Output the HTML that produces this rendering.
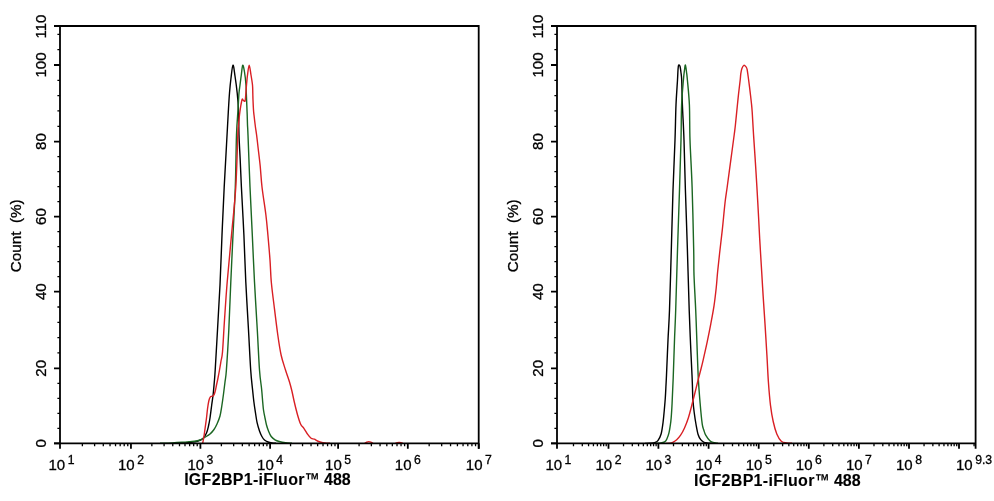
<!DOCTYPE html>
<html><head><meta charset="utf-8"><title>IGF2BP1 flow cytometry</title>
<style>html,body{margin:0;padding:0;background:#fff;}svg{display:block;will-change:transform;}</style></head>
<body><svg width="994" height="501" viewBox="0 0 994 501">
<rect width="994" height="501" fill="#fff"/>
<g fill="none">
<path d="M178,443.3C179.17,443.25 183,443.13 185,443C187,442.87 187.83,442.83 190,442.5C192.17,442.17 195.83,441.67 198,441C200.17,440.33 201.58,439.83 203,438.5C204.42,437.17 205.58,435.08 206.5,433C207.42,430.92 207.92,428.5 208.5,426C209.08,423.5 209.47,421.5 210,418C210.53,414.5 211.17,409 211.7,405C212.23,401 212.77,397.83 213.2,394C213.63,390.17 213.97,386 214.3,382C214.63,378 214.67,378.67 215.2,370C215.73,361.33 216.7,344.17 217.5,330C218.3,315.83 219.25,300.83 220,285C220.75,269.17 221.3,251.33 222,235C222.7,218.67 223.45,202 224.2,187C224.95,172 225.82,157.5 226.5,145C227.18,132.5 227.8,120.67 228.3,112C228.8,103.33 229.05,98.67 229.5,93C229.95,87.33 230.42,82.63 231,78C231.58,73.37 232.33,65.53 233,65.2C233.67,64.87 234.3,71.37 235,76C235.7,80.63 236.62,87.33 237.2,93C237.78,98.67 238.2,103 238.5,110C238.8,117 238.72,126.67 239,135C239.28,143.33 239.8,151.33 240.2,160C240.6,168.67 240.78,174.5 241.4,187C242.02,199.5 243.17,219.17 243.9,235C244.63,250.83 245.03,266.17 245.8,282C246.57,297.83 247.68,315.33 248.5,330C249.32,344.67 250.02,360 250.7,370C251.38,380 252.07,384.67 252.6,390C253.13,395.33 253.42,398.17 253.9,402C254.38,405.83 254.97,409.55 255.5,413C256.03,416.45 256.43,419.7 257.1,422.7C257.77,425.7 258.7,428.7 259.5,431C260.3,433.3 261.07,435 261.9,436.5C262.73,438 263.48,439.08 264.5,440C265.52,440.92 266.75,441.5 268,442C269.25,442.5 270.67,442.78 272,443C273.33,443.22 275.33,443.25 276,443.3" fill="none" stroke="#000" stroke-width="1.4" stroke-linejoin="round"/>
<path d="M160,443.3C162,443.23 168.33,443.07 172,442.9C175.67,442.73 179,442.52 182,442.3C185,442.08 187.67,441.82 190,441.6C192.33,441.38 194.33,441.27 196,441C197.67,440.73 198.5,440.63 200,440C201.5,439.37 203.33,438.2 205,437.2C206.67,436.2 208.5,435.28 210,434C211.5,432.72 212.83,431.17 214,429.5C215.17,427.83 216,426.25 217,424C218,421.75 219.2,419 220,416C220.8,413 221.22,409.67 221.8,406C222.38,402.33 222.97,398 223.5,394C224.03,390 224.52,386 225,382C225.48,378 225.77,378.67 226.4,370C227.03,361.33 228.07,344.67 228.8,330C229.53,315.33 230.1,297.83 230.8,282C231.5,266.17 232.25,250.83 233,235C233.75,219.17 234.72,203.67 235.3,187C235.88,170.33 236.05,147.83 236.5,135C236.95,122.17 237.58,117 238,110C238.42,103 238.67,97.17 239,93C239.33,88.83 239.62,88 240,85C240.38,82 240.85,78.3 241.3,75C241.75,71.7 242.17,65.7 242.7,65.2C243.23,64.7 243.95,68.7 244.5,72C245.05,75.3 245.7,81.5 246,85C246.3,88.5 246.17,89.67 246.3,93C246.43,96.33 246.65,101.33 246.8,105C246.95,108.67 247.08,111.67 247.2,115C247.32,118.33 247.37,121.67 247.5,125C247.63,128.33 247.58,124.67 248,135C248.42,145.33 249.28,170.33 250,187C250.72,203.67 251.55,219.17 252.3,235C253.05,250.83 253.67,266.17 254.5,282C255.33,297.83 256.47,315.33 257.3,330C258.13,344.67 258.78,360.17 259.5,370C260.22,379.83 261.07,383.67 261.6,389C262.13,394.33 262.38,398.5 262.7,402C263.02,405.5 263.12,407.33 263.5,410C263.88,412.67 264.5,415.5 265,418C265.5,420.5 265.92,422.83 266.5,425C267.08,427.17 267.72,429.08 268.5,431C269.28,432.92 270.12,435.03 271.2,436.5C272.28,437.97 273.67,438.97 275,439.8C276.33,440.63 277.45,441 279.2,441.5C280.95,442 283.37,442.5 285.5,442.8C287.63,443.1 290.92,443.22 292,443.3" fill="none" stroke="#1b6622" stroke-width="1.4" stroke-linejoin="round"/>
<path d="M202.7,443.3C202.8,442.75 203.03,441.55 203.3,440C203.57,438.45 203.95,436.33 204.3,434C204.65,431.67 205.03,428.67 205.4,426C205.77,423.33 206.15,420.83 206.5,418C206.85,415.17 207.12,411.83 207.5,409C207.88,406.17 208.38,402.92 208.8,401C209.22,399.08 209.55,398.28 210,397.5C210.45,396.72 211,396.55 211.5,396.3C212,396.05 212.55,396.3 213,396C213.45,395.7 213.78,395.5 214.2,394.5C214.62,393.5 215.12,391.58 215.5,390C215.88,388.42 216.08,387 216.5,385C216.92,383 217.5,380.5 218,378C218.5,375.5 219,372.83 219.5,370C220,367.17 220.5,364 221,361C221.5,358 221.92,358.83 222.5,352C223.08,345.17 223.72,331.67 224.5,320C225.28,308.33 226.03,296.17 227.2,282C228.37,267.83 230.07,250.83 231.5,235C232.93,219.17 234.75,203.67 235.8,187C236.85,170.33 237.35,145.33 237.8,135C238.25,124.67 238.22,128.33 238.5,125C238.78,121.67 239.15,118 239.5,115C239.85,112 240.27,109.17 240.6,107C240.93,104.83 241.22,103.33 241.5,102C241.78,100.67 242,99.25 242.3,99C242.6,98.75 242.97,100.17 243.3,100.5C243.63,100.83 243.97,101.12 244.3,101C244.63,100.88 244.93,102.47 245.3,99.8C245.67,97.13 246.13,89.13 246.5,85C246.87,80.87 247.05,78.3 247.5,75C247.95,71.7 248.62,65.2 249.2,65.2C249.78,65.2 250.45,71.7 251,75C251.55,78.3 252.2,82 252.5,85C252.8,88 252.72,90.5 252.8,93C252.88,95.5 252.88,97.17 253,100C253.12,102.83 253.33,107.5 253.5,110C253.67,112.5 253.7,112.33 254,115C254.3,117.67 254.87,122.67 255.3,126C255.73,129.33 256.15,131.5 256.6,135C257.05,138.5 257.4,141.83 258,147C258.6,152.17 259.53,159.33 260.2,166C260.87,172.67 261.05,178.83 262,187C262.95,195.17 264.92,207 265.9,215C266.88,223 267.22,227.5 267.9,235C268.58,242.5 269.43,252.17 270,260C270.57,267.83 270.63,274.5 271.3,282C271.97,289.5 272.92,296.17 274,305C275.08,313.83 276.62,326.67 277.8,335C278.98,343.33 279.82,349.17 281.1,355C282.38,360.83 284.1,365.5 285.5,370C286.9,374.5 288.43,378.5 289.5,382C290.57,385.5 291.1,387.67 291.9,391C292.7,394.33 293.37,398.05 294.3,402C295.23,405.95 296.43,410.98 297.5,414.7C298.57,418.42 299.63,422.03 300.7,424.3C301.77,426.57 302.7,426.57 303.9,428.3C305.1,430.03 306.7,433.03 307.9,434.7C309.1,436.37 310.03,437.55 311.1,438.3C312.17,439.05 313.23,438.75 314.3,439.2C315.37,439.65 316.38,440.48 317.5,441C318.62,441.52 319.75,441.97 321,442.3C322.25,442.63 323.5,442.83 325,443C326.5,443.17 329.17,443.25 330,443.3" fill="none" stroke="#d91f24" stroke-width="1.4" stroke-linejoin="round"/>
<path d="M645,443.35C645.83,443.33 648.38,443.32 650,443.2C651.62,443.07 653.38,443.03 654.7,442.6C656.02,442.17 656.83,442.03 657.9,440.6C658.97,439.17 660.23,437.1 661.1,434C661.97,430.9 662.57,426 663.1,422C663.63,418 663.93,414 664.3,410C664.67,406 665.02,402.17 665.3,398C665.58,393.83 665.8,388.83 666,385C666.2,381.17 666.17,382.5 666.5,375C666.83,367.5 667.5,350.83 668,340C668.5,329.17 668.95,325 669.5,310C670.05,295 670.72,270 671.3,250C671.88,230 672.38,208.33 673,190C673.62,171.67 674.5,154.17 675,140C675.5,125.83 675.58,115 676,105C676.42,95 677.17,85.83 677.5,80C677.83,74.17 677.82,72.48 678,70C678.18,67.52 678.27,65.72 678.6,65.1C678.93,64.48 679.62,65.15 680,66.3C680.38,67.45 680.62,69.72 680.9,72C681.18,74.28 681.45,74.5 681.7,80C681.95,85.5 682.02,95 682.4,105C682.78,115 683.5,125.83 684,140C684.5,154.17 684.83,171.67 685.4,190C685.97,208.33 686.77,230 687.4,250C688.03,270 688.67,294.17 689.2,310C689.73,325.83 690.13,334.17 690.6,345C691.07,355.83 691.7,368.33 692,375C692.3,381.67 692.25,380.92 692.4,385C692.55,389.08 692.6,394.92 692.9,399.5C693.2,404.08 693.65,408.17 694.2,412.5C694.75,416.83 695.55,421.83 696.2,425.5C696.85,429.17 697.35,432.13 698.1,434.5C698.85,436.87 699.72,438.4 700.7,439.7C701.68,441 702.78,441.73 704,442.3C705.22,442.87 706.67,442.93 708,443.1C709.33,443.28 711.33,443.31 712,443.35" fill="none" stroke="#000" stroke-width="1.4" stroke-linejoin="round"/>
<path d="M655,443.35C655.67,443.33 657.83,443.29 659,443.2C660.17,443.11 661,443.07 662,442.8C663,442.53 664.23,442.15 665,441.6C665.77,441.05 665.95,440.9 666.6,439.5C667.25,438.1 668.2,436.18 668.9,433.2C669.6,430.22 670.35,425.13 670.8,421.6C671.25,418.07 671.38,415.1 671.6,412C671.82,408.9 671.83,408.67 672.1,403C672.37,397.33 672.8,388.5 673.2,378C673.6,367.5 674.08,351.33 674.5,340C674.92,328.67 675.2,325 675.7,310C676.2,295 676.87,270 677.5,250C678.13,230 678.92,208.33 679.5,190C680.08,171.67 680.65,154.17 681,140C681.35,125.83 681.2,115 681.6,105C682,95 682.92,85.83 683.4,80C683.88,74.17 684.17,72.5 684.5,70C684.83,67.5 685.07,64.67 685.4,65C685.73,65.33 686.17,69.5 686.5,72C686.83,74.5 686.92,74.5 687.4,80C687.88,85.5 688.97,95 689.4,105C689.83,115 689.55,126.33 690,140C690.45,153.67 691.48,168.67 692.1,187C692.72,205.33 693.38,235.33 693.7,250C694.02,264.67 693.67,265 694,275C694.33,285 695.2,298.33 695.7,310C696.2,321.67 696.57,333.67 697,345C697.43,356.33 697.78,368.33 698.3,378C698.82,387.67 699.45,395.35 700.1,403C700.75,410.65 701.58,419.4 702.2,423.9C702.82,428.4 703.22,428.13 703.8,430C704.38,431.87 704.68,433.32 705.7,435.1C706.72,436.88 708.68,439.5 709.9,440.7C711.12,441.9 711.65,441.87 713,442.3C714.35,442.73 717.17,443.13 718,443.3" fill="none" stroke="#1b6622" stroke-width="1.4" stroke-linejoin="round"/>
<path d="M666,443.35C666.7,443.33 669.07,443.38 670.2,443.2C671.33,443.02 671.72,442.88 672.8,442.3C673.88,441.72 675.4,440.88 676.7,439.7C678,438.52 679.3,437.15 680.6,435.2C681.9,433.25 683.2,430.92 684.5,428C685.8,425.08 687.22,421.37 688.4,417.7C689.58,414.03 690.52,410.12 691.6,406C692.68,401.88 693.82,397.33 694.9,393C695.98,388.67 697.07,384.08 698.1,380C699.13,375.92 700.25,371.87 701.1,368.5C701.95,365.13 702.18,364.23 703.2,359.8C704.22,355.37 705.93,347.88 707.2,341.9C708.47,335.92 709.67,329.9 710.8,323.9C711.93,317.9 713.1,311.88 714,305.9C714.9,299.92 715.6,293.65 716.2,288C716.8,282.35 717.03,277.78 717.6,272C718.17,266.22 718.82,260.32 719.6,253.3C720.38,246.28 721.4,238.28 722.3,229.9C723.2,221.52 724.18,210.15 725,203C725.82,195.85 726.18,194.52 727.2,187C728.22,179.48 729.92,166.73 731.1,157.9C732.28,149.07 733.58,139.48 734.3,134C735.02,128.52 734.92,129.5 735.4,125C735.88,120.5 736.67,112.25 737.2,107C737.73,101.75 738.1,98 738.6,93.5C739.1,89 739.83,83.32 740.2,80C740.57,76.68 740.52,75.53 740.8,73.6C741.08,71.67 741.38,69.78 741.9,68.4C742.42,67.02 743.25,65.6 743.9,65.3C744.55,65 745.27,65.92 745.8,66.6C746.33,67.28 746.65,67.33 747.1,69.4C747.55,71.47 748.02,75.42 748.5,79C748.98,82.58 749.52,86.9 750,90.9C750.48,94.9 751.03,99.48 751.4,103C751.77,106.52 751.85,106.83 752.2,112C752.55,117.17 753.02,126.35 753.5,134C753.98,141.65 754.53,149.07 755.1,157.9C755.67,166.73 756.37,177.98 756.9,187C757.43,196.02 757.83,203.35 758.3,212C758.77,220.65 759.13,228.9 759.7,238.9C760.27,248.9 761.12,262.33 761.7,272C762.28,281.67 762.65,288.25 763.2,296.9C763.75,305.55 764.38,314.22 765,323.9C765.62,333.58 766.33,345.32 766.9,355C767.47,364.68 767.8,373.62 768.4,382C769,390.38 769.7,398.72 770.5,405.3C771.3,411.88 772.15,416.72 773.2,421.5C774.25,426.28 775.45,430.72 776.8,434C778.15,437.28 779.65,439.7 781.3,441.2C782.95,442.7 784.92,442.65 786.7,443C788.48,443.35 791.12,443.25 792,443.3" fill="none" stroke="#d91f24" stroke-width="1.4" stroke-linejoin="round"/>
<path d="M364.8,443.3C365.07,443.13 365.73,442.58 366.4,442.3C367.07,442.02 368,441.6 368.8,441.6C369.6,441.6 370.52,442.02 371.2,442.3C371.88,442.58 372.62,443.13 372.9,443.3" fill="none" stroke="#d91f24" stroke-width="1.4"/>
<path d="M395.4,443.3C395.7,443.2 396.58,442.85 397.2,442.7C397.82,442.55 398.47,442.4 399.1,442.4C399.73,442.4 400.38,442.55 401,442.7C401.62,442.85 402.5,443.2 402.8,443.3" fill="none" stroke="#d91f24" stroke-width="1.4"/>
</g>
<path d="M54,26H478.7V448.65" fill="none" stroke="#000" stroke-width="1.8" stroke-linejoin="miter"/>
<path d="M60,25.1V448.65M54,443.35H478.7" fill="none" stroke="#000" stroke-width="1.8"/>
<path d="M57.4,428.34H60M57.4,413.33H60M57.4,398.32H60M57.4,383.31H60M57.4,352.97H60M57.4,337.64H60M57.4,322.31H60M57.4,306.98H60M57.4,276.64H60M57.4,261.63H60M57.4,246.62H60M57.4,231.61H60M57.4,201.6H60M57.4,186.6H60M57.4,171.6H60M57.4,156.6H60M57.4,126.28H60M57.4,110.96H60M57.4,95.64H60M57.4,80.32H60M57.4,49.68H60M57.4,34.36H60" stroke="#000" stroke-width="1.3"/>
<path d="M54,443.35H60M54,368.3H60M54,291.65H60M54,216.6H60M54,141.6H60M54,65H60" stroke="#000" stroke-width="1.8"/>
<path d="M82.37,443.35V446.15M94.61,443.35V446.15M103.29,443.35V446.15M110.03,443.35V446.15M115.53,443.35V446.15M120.18,443.35V446.15M124.21,443.35V446.15M127.77,443.35V446.15M151.86,443.35V446.15M164.09,443.35V446.15M172.76,443.35V446.15M179.49,443.35V446.15M184.99,443.35V446.15M189.64,443.35V446.15M193.67,443.35V446.15M197.22,443.35V446.15M221.38,443.35V446.15M233.66,443.35V446.15M242.36,443.35V446.15M249.12,443.35V446.15M254.64,443.35V446.15M259.3,443.35V446.15M263.35,443.35V446.15M266.91,443.35V446.15M290.57,443.35V446.15M302.54,443.35V446.15M311.04,443.35V446.15M317.63,443.35V446.15M323.01,443.35V446.15M327.57,443.35V446.15M331.51,443.35V446.15M334.99,443.35V446.15M359.08,443.35V446.15M371.36,443.35V446.15M380.06,443.35V446.15M386.82,443.35V446.15M392.34,443.35V446.15M397,443.35V446.15M401.05,443.35V446.15M404.61,443.35V446.15M429.17,443.35V446.15M441.68,443.35V446.15M450.55,443.35V446.15M457.43,443.35V446.15M463.05,443.35V446.15M467.8,443.35V446.15M471.92,443.35V446.15M475.55,443.35V446.15" stroke="#000" stroke-width="1.3"/>
<path d="M130.95,443.35V448.65M200.4,443.35V448.65M270.1,443.35V448.65M338.1,443.35V448.65M407.8,443.35V448.65M478.8,443.35V448.65" stroke="#000" stroke-width="1.8"/>
<path d="M551,26H975.6V448.65" fill="none" stroke="#000" stroke-width="1.8" stroke-linejoin="miter"/>
<path d="M557,25.1V448.65M551,443.35H975.6" fill="none" stroke="#000" stroke-width="1.8"/>
<path d="M554.4,428.34H557M554.4,413.33H557M554.4,398.32H557M554.4,383.31H557M554.4,352.97H557M554.4,337.64H557M554.4,322.31H557M554.4,306.98H557M554.4,276.64H557M554.4,261.63H557M554.4,246.62H557M554.4,231.61H557M554.4,201.6H557M554.4,186.6H557M554.4,171.6H557M554.4,156.6H557M554.4,126.28H557M554.4,110.96H557M554.4,95.64H557M554.4,80.32H557M554.4,49.68H557M554.4,34.36H557" stroke="#000" stroke-width="1.3"/>
<path d="M551,443.35H557M551,368.3H557M551,291.65H557M551,216.6H557M551,141.6H557M551,65H557" stroke="#000" stroke-width="1.8"/>
<path d="M573.48,443.35V446.15M582.3,443.35V446.15M588.56,443.35V446.15M593.42,443.35V446.15M597.39,443.35V446.15M600.74,443.35V446.15M603.64,443.35V446.15M606.21,443.35V446.15M623.52,443.35V446.15M632.31,443.35V446.15M638.54,443.35V446.15M643.38,443.35V446.15M647.33,443.35V446.15M650.67,443.35V446.15M653.56,443.35V446.15M656.12,443.35V446.15M673.51,443.35V446.15M682.35,443.35V446.15M688.62,443.35V446.15M693.49,443.35V446.15M697.46,443.35V446.15M700.82,443.35V446.15M703.74,443.35V446.15M706.3,443.35V446.15M723.68,443.35V446.15M732.5,443.35V446.15M738.76,443.35V446.15M743.62,443.35V446.15M747.59,443.35V446.15M750.94,443.35V446.15M753.84,443.35V446.15M756.41,443.35V446.15M773.78,443.35V446.15M782.6,443.35V446.15M788.86,443.35V446.15M793.72,443.35V446.15M797.69,443.35V446.15M801.04,443.35V446.15M803.94,443.35V446.15M806.51,443.35V446.15M823.88,443.35V446.15M832.7,443.35V446.15M838.96,443.35V446.15M843.82,443.35V446.15M847.79,443.35V446.15M851.14,443.35V446.15M854.04,443.35V446.15M856.61,443.35V446.15M873.98,443.35V446.15M882.8,443.35V446.15M889.06,443.35V446.15M893.92,443.35V446.15M897.89,443.35V446.15M901.24,443.35V446.15M904.14,443.35V446.15M906.71,443.35V446.15M924.05,443.35V446.15M932.86,443.35V446.15M939.1,443.35V446.15M943.95,443.35V446.15M947.91,443.35V446.15M951.25,443.35V446.15M954.15,443.35V446.15M956.71,443.35V446.15M974.07,443.35V446.15" stroke="#000" stroke-width="1.3"/>
<path d="M608.5,443.35V448.65M658.4,443.35V448.65M708.6,443.35V448.65M758.7,443.35V448.65M808.8,443.35V448.65M858.9,443.35V448.65M909,443.35V448.65M959,443.35V448.65" stroke="#000" stroke-width="1.8"/>
<g font-family='"Liberation Sans", Arial, sans-serif' font-size="15" fill="#000" stroke="#000" stroke-width="0.3">
<text transform="translate(46.4,443.35) rotate(-90)" text-anchor="middle">0</text>
<text transform="translate(46.4,368.3) rotate(-90)" text-anchor="middle">20</text>
<text transform="translate(46.4,291.65) rotate(-90)" text-anchor="middle">40</text>
<text transform="translate(46.4,216.6) rotate(-90)" text-anchor="middle">60</text>
<text transform="translate(46.4,141.6) rotate(-90)" text-anchor="middle">80</text>
<text transform="translate(46.4,65) rotate(-90)" text-anchor="middle">100</text>
<text transform="translate(46.4,26.6) rotate(-90)" text-anchor="middle">110</text>
<text transform="translate(21.1,235.8) rotate(-90)" text-anchor="middle" font-size="15.25" xml:space="preserve">Count  (%)</text>
<text transform="translate(543.4,443.35) rotate(-90)" text-anchor="middle">0</text>
<text transform="translate(543.4,368.3) rotate(-90)" text-anchor="middle">20</text>
<text transform="translate(543.4,291.65) rotate(-90)" text-anchor="middle">40</text>
<text transform="translate(543.4,216.6) rotate(-90)" text-anchor="middle">60</text>
<text transform="translate(543.4,141.6) rotate(-90)" text-anchor="middle">80</text>
<text transform="translate(543.4,65) rotate(-90)" text-anchor="middle">100</text>
<text transform="translate(543.4,26.6) rotate(-90)" text-anchor="middle">110</text>
<text transform="translate(518.1,235.8) rotate(-90)" text-anchor="middle" font-size="15.25" xml:space="preserve">Count  (%)</text>
<text x="61.45" y="469.6" text-anchor="middle">10<tspan dx="2.5" dy="-6.0" font-size="12.2">1</tspan></text>
<text x="130.95" y="469.6" text-anchor="middle">10<tspan dx="2.5" dy="-6.0" font-size="12.2">2</tspan></text>
<text x="200.4" y="469.6" text-anchor="middle">10<tspan dx="2.5" dy="-6.0" font-size="12.2">3</tspan></text>
<text x="270.1" y="469.6" text-anchor="middle">10<tspan dx="2.5" dy="-6.0" font-size="12.2">4</tspan></text>
<text x="338.1" y="469.6" text-anchor="middle">10<tspan dx="2.5" dy="-6.0" font-size="12.2">5</tspan></text>
<text x="407.8" y="469.6" text-anchor="middle">10<tspan dx="2.5" dy="-6.0" font-size="12.2">6</tspan></text>
<text x="478.8" y="469.6" text-anchor="middle">10<tspan dx="2.5" dy="-6.0" font-size="12.2">7</tspan></text>
<text x="184.13" y="484.9" font-weight="bold" font-size="16" letter-spacing="0.3" stroke-width="0.1">IGF2BP1-iFluor</text>
<text transform="translate(305.3,486.9) scale(0.74,1)" font-weight="bold" font-size="19.8" stroke-width="0.1">™</text>
<text x="324.06" y="484.9" font-weight="bold" font-size="16" stroke-width="0.1">488</text>
<text x="558.4" y="469.6" text-anchor="middle">10<tspan dx="2.5" dy="-6.0" font-size="12.2">1</tspan></text>
<text x="608.5" y="469.6" text-anchor="middle">10<tspan dx="2.5" dy="-6.0" font-size="12.2">2</tspan></text>
<text x="658.4" y="469.6" text-anchor="middle">10<tspan dx="2.5" dy="-6.0" font-size="12.2">3</tspan></text>
<text x="708.6" y="469.6" text-anchor="middle">10<tspan dx="2.5" dy="-6.0" font-size="12.2">4</tspan></text>
<text x="758.7" y="469.6" text-anchor="middle">10<tspan dx="2.5" dy="-6.0" font-size="12.2">5</tspan></text>
<text x="808.8" y="469.6" text-anchor="middle">10<tspan dx="2.5" dy="-6.0" font-size="12.2">6</tspan></text>
<text x="858.9" y="469.6" text-anchor="middle">10<tspan dx="2.5" dy="-6.0" font-size="12.2">7</tspan></text>
<text x="909" y="469.6" text-anchor="middle">10<tspan dx="2.5" dy="-6.0" font-size="12.2">8</tspan></text>
<text x="974.07" y="469.6" text-anchor="middle">10<tspan dx="2.5" dy="-6.0" font-size="12.2">9.3</tspan></text>
<text x="694.03" y="485.8" font-weight="bold" font-size="16" letter-spacing="0.3" stroke-width="0.1">IGF2BP1-iFluor</text>
<text transform="translate(815.2,487.8) scale(0.74,1)" font-weight="bold" font-size="19.8" stroke-width="0.1">™</text>
<text x="833.96" y="485.8" font-weight="bold" font-size="16" stroke-width="0.1">488</text>
</g>
</svg></body></html>
